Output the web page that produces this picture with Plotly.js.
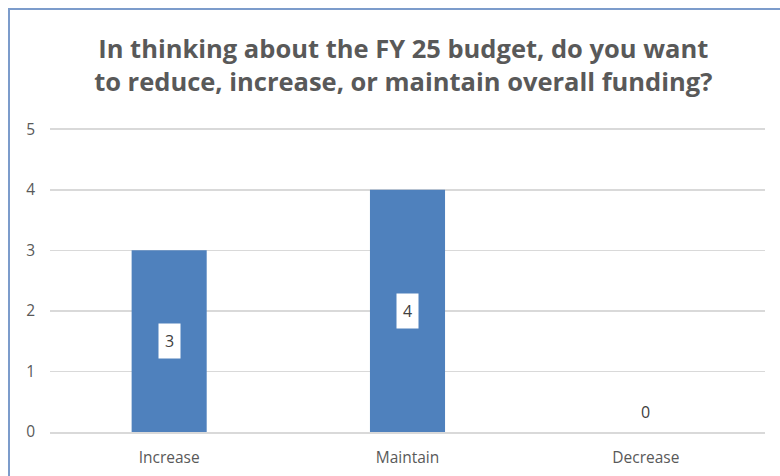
<!DOCTYPE html>
<html><head><meta charset="utf-8">
<script src="https://cdn.plot.ly/plotly-3.0.1.min.js"></script>
<style>html,body{margin:0;padding:0;background:#fff;}#chart{width:780px;height:476px;}
#frame{position:absolute;left:8px;top:8px;width:800px;height:500px;border-top:2px solid #7C9CCB;border-left:2px solid #7C9CCB;pointer-events:none;z-index:10;}</style>
</head><body>
<div id="chart"></div><div id="frame"></div>
<script>
const categories = ["Increase", "Maintain", "Decrease"];
const values = [3, 4, 0];
const yTicks = [0, 1, 2, 3, 4, 5];

const annotations = categories.map((c, i) => ({
  x: c, y: values[i] / 2, xref: 'x', yref: 'y',
  text: String(values[i]), showarrow: false,
  yshift: values[i] === 0 ? 20 : 0,
  bgcolor: values[i] === 0 ? 'rgba(0,0,0,0)' : '#ffffff',
  borderpad: 6,
  font: {family: 'Open Sans, sans-serif', size: 16, color: '#404040'}
}));

Plotly.newPlot('chart', [{
  type: 'bar', x: categories, y: values,
  marker: {color: '#4F81BD', line: {width: 0}},
  width: 0.315, hoverinfo: 'none'
}], {
  width: 780, height: 476,
  margin: {l: 50, r: 15, t: 128, b: 44},
  paper_bgcolor: '#fff', plot_bgcolor: '#fff',
  title: {text: 'In thinking about the FY 25 budget, do you want<br>to reduce, increase, or maintain overall funding?',
    font: {family: 'Open Sans, sans-serif', size: 25.5, color: '#595959', weight: 'bold'},
    x: 0.517, xanchor: 'center', yref: 'container', y: 0.879, yanchor: 'middle'},
  xaxis: {type: 'category', showgrid: false, showline: true, linecolor: '#D9D9D9', linewidth: 2,
    tickfont: {family: 'Open Sans, sans-serif', size: 15.5, color: '#595959'}, ticks: '', ticklabelstandoff: 10},
  yaxis: {range: [0, 5.02], tickvals: yTicks, showgrid: true, gridcolor: '#D9D9D9', gridwidth: 1.5,
    zeroline: false, showline: false, ticks: '',
    tickfont: {family: 'Open Sans, sans-serif', size: 15.5, color: '#595959'}, ticklabelstandoff: 14},
  annotations: annotations,
  showlegend: false, bargap: 0.685
}, {displayModeBar: false, staticPlot: true});
</script></body></html>
